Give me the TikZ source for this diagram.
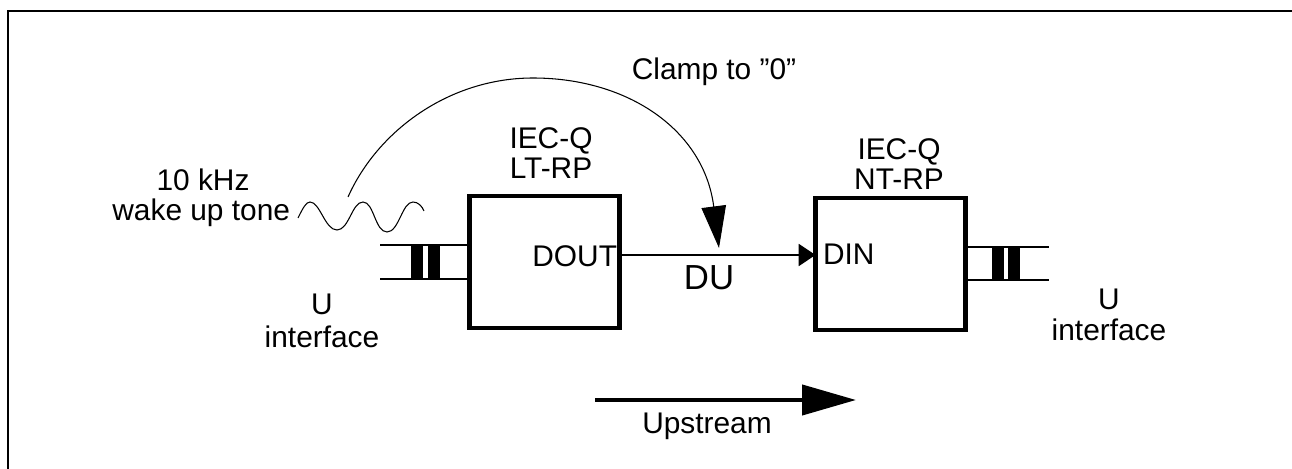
\documentclass[tikz,border=0pt]{standalone}
\usepackage{fontspec}
\setmainfont[Ligatures=ResetAll]{Liberation Sans}
\usetikzlibrary{arrows.meta}
\tikzset{
  blockbox/.style={draw, line width=2.4pt, inner sep=0pt, outer sep=0pt, minimum width=3cm, minimum height=2.64cm},
  lbl/.style={inner sep=0pt, outer sep=0pt, align=center, font=\fontsize{17}{17.5}\selectfont},
  wire/.style={line width=1.2pt},
  corebar/.style={fill=black},
}
\begin{document}
\begin{tikzpicture}[x=0.02cm, y=-0.02cm]
  \useasboundingbox (0,0) rectangle (1292,469);
  % frame: only left and top are drawn
  \draw[line width=1.2pt] (8,469) -- (8,11) -- (1292,11);
  % blocks
  \node[blockbox] (ltrp) at (544.5,262) {};
  \node[blockbox] (ntrp) at (890.5,264) {};
  \node[lbl] (ltname) at (551,153) {IEC-Q\\LT-RP};
  \node[lbl] (ntname) at (899,164) {IEC-Q\\NT-RP};
  \node[lbl, anchor=east] (dout) at (617,256) {DOUT};
  \node[lbl, anchor=west] (din) at (823,254) {DIN};
  % DU line
  \coordinate (duin) at (ltrp.east |- 0,255);
  \coordinate (duout) at (ntrp.west |- 0,255);
  \draw[wire, -{Triangle[length=9.6pt, width=12.5pt]}] (duin) -- (duout);
  \node[lbl, font=\fontsize{19.8}{20}\selectfont] (du) at (709,278) {DU};
  % left transformer
  \coordinate (ula) at (380,245);
  \coordinate (ulb) at (380,279);
  \draw[wire] (ula) -- (ltrp.west |- ula);
  \draw[wire] (ulb) -- (ltrp.west |- ulb);
  \fill[corebar] (411,244) rectangle (423,280);
  \fill[corebar] (428,244) rectangle (440,280);
  \node[lbl] (ultext) at (322,321) {U\\[1pt]interface};
  % right transformer
  \coordinate (ura) at (1049,247);
  \coordinate (urb) at (1049,280);
  \draw[wire] (ntrp.east |- ura) -- (ura);
  \draw[wire] (ntrp.east |- urb) -- (urb);
  \fill[corebar] (992,246) rectangle (1004,281);
  \fill[corebar] (1008,246) rectangle (1020,281);
  \node[lbl] (urtext) at (1109,315) {U\\interface};
  % wake up tone
  \node[lbl] (tonetext) at (203,198) {10 kHz\\[-0.5pt]\hspace*{-2pt}wake up tone};
  \draw[line width=0.6pt] (298,218) .. controls (303,208) and (306,202) .. (310,202)
    .. controls (320,202) and (325,230) .. (337,230)
    .. controls (349,230) and (352,202) .. (363,202)
    .. controls (374,202) and (375,232) .. (387,232)
    .. controls (399,232) and (402,202) .. (413,202)
    .. controls (418,202) and (422,206) .. (424,211);
  % clamp arc
  \coordinate (arcstart) at (348,197);
  \coordinate (arctop) at (533,78);
  \coordinate (arcend) at (719,248);
  \draw[line width=0.6pt, -{Triangle[length=23.8pt, width=14pt]}] (arcstart)
    .. controls (378,130) and (450,78) .. (arctop)
    .. controls (628,78) and (704,130) .. (arcend);
  \node[lbl] (clamp) at (714,72) {Clamp to "0"};
  % upstream arrow
  \coordinate (upa) at (595,400);
  \coordinate (upb) at (856,400);
  \draw[line width=2.4pt, -{Triangle[length=30.6pt, width=17pt]}] (upa) -- (upb);
  \node[lbl] (uptext) at (707,426) {Upstream};
\end{tikzpicture}
\end{document}
